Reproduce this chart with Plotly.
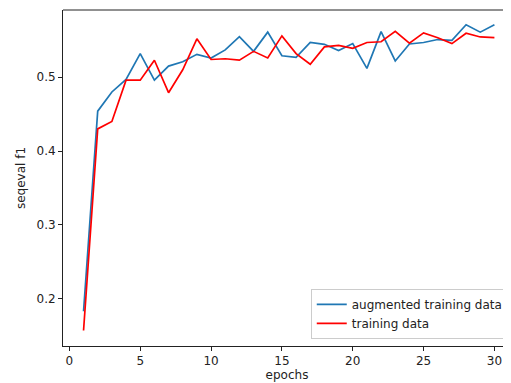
import plotly.graph_objects as go

epochs = list(range(1, 31))
augmented = [0.183, 0.454, 0.480, 0.497, 0.532, 0.496, 0.515, 0.521, 0.531, 0.526,
             0.537, 0.555, 0.535, 0.561, 0.529, 0.527, 0.547, 0.5445, 0.536, 0.5455,
             0.512, 0.5617, 0.522, 0.545, 0.547, 0.551, 0.550, 0.571, 0.561, 0.571]
training = [0.157, 0.430, 0.440, 0.496, 0.496, 0.523, 0.479, 0.510, 0.552, 0.524,
            0.525, 0.523, 0.535, 0.526, 0.556, 0.532, 0.5175, 0.541, 0.543, 0.539,
            0.547, 0.548, 0.562, 0.546, 0.560, 0.5535, 0.5455, 0.5595, 0.5545, 0.5535]
x_ticks = [0, 5, 10, 15, 20, 25, 30]
y_ticks = [0.2, 0.3, 0.4, 0.5]

fig = go.Figure()
fig.add_trace(go.Scatter(x=epochs, y=augmented, mode="lines", name="augmented training data",
                         line=dict(color="#1f77b4", width=1.7)))
fig.add_trace(go.Scatter(x=epochs, y=training, mode="lines", name="training data",
                         line=dict(color="red", width=1.7)))

font = dict(family="DejaVu Sans", size=12, color="#222")
# page body has an 8px default margin, so the figure is sized/offset to compensate
fig.update_layout(
    width=503, height=375,
    margin=dict(l=55, r=0, t=2, b=37, autoexpand=False),
    plot_bgcolor="white", paper_bgcolor="white",
    font=font,
    showlegend=True,
    legend=dict(x=0.995, y=0.021, xanchor="right", yanchor="bottom",
                bgcolor="rgba(255,255,255,0.8)", bordercolor="#cccccc", borderwidth=1,
                font=font, tracegroupgap=0, itemwidth=30),
    xaxis=dict(range=[-0.45, 31.17], tickvals=x_ticks, ticks="outside", ticklen=4,
               tickcolor="#222", showline=True, linecolor="#222", linewidth=1,
               showgrid=False, zeroline=False, automargin=False,
               title=dict(text="epochs", standoff=1, font=font)),
    yaxis=dict(range=[0.136, 0.591], tickvals=y_ticks, tickformat=".1f", ticks="outside",
               ticklen=4, tickcolor="#222", showline=True, linecolor="#222", linewidth=1,
               showgrid=False, zeroline=False, automargin=False,
               title=dict(text="seqeval f1", standoff=8, font=font)),
)
fig.add_shape(type="line", xref="paper", yref="paper", x0=0, x1=1, y0=1, y1=1,
              line=dict(color="#222", width=1))
fig.write_html("out.html")
